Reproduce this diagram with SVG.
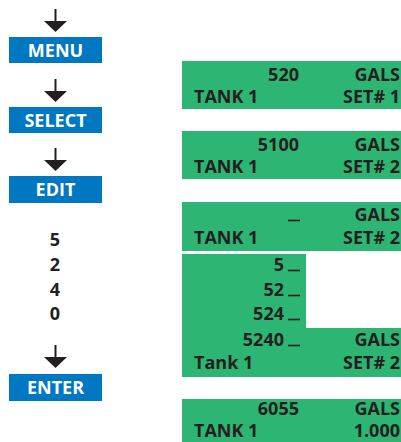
<svg xmlns="http://www.w3.org/2000/svg" width="401" height="442" viewBox="0 0 401 442">
<defs>
<style>
.btn{fill:#0077C1}
.btxt{fill:#FFFFFF;font-family:"Open Sans","Liberation Sans",sans-serif;font-weight:700;font-size:18px;text-anchor:middle}
.lcd{fill:#2DB673}
.t{fill:#231F20;font-family:"Open Sans","Liberation Sans",sans-serif;font-weight:700;font-size:18px}
.r{text-anchor:end}
.m{text-anchor:middle}
.cur{stroke:#231F20;stroke-width:1.6}
.ln{stroke:#231F20;stroke-width:2;fill:none}
.hd{fill:#231F20}
</style>
</defs>
<g id="connectors">
<line class="ln" x1="55.5" y1="9" x2="55.5" y2="22"/>
<polygon class="hd" points="44,21 67,21 55.5,32"/>
<line class="ln" x1="55.5" y1="79" x2="55.5" y2="92"/>
<polygon class="hd" points="44,91 67,91 55.5,102"/>
<line class="ln" x1="55.5" y1="148" x2="55.5" y2="161"/>
<polygon class="hd" points="44,160 67,160 55.5,171"/>
<line class="ln" x1="55.5" y1="345" x2="55.5" y2="358"/>
<polygon class="hd" points="44,357 67,357 55.5,368"/>
</g>
<g id="menu">
<rect class="btn" x="9" y="37" width="93" height="26"/>
<text class="btxt" x="55.5" y="56.5">MENU</text>
</g>
<g id="select">
<rect class="btn" x="9" y="107" width="93" height="26"/>
<text class="btxt" x="55.5" y="126.5">SELECT</text>
</g>
<g id="edit">
<rect class="btn" x="9" y="176" width="93" height="27"/>
<text class="btxt" x="55.5" y="196">EDIT</text>
</g>
<g id="digits">
<text class="t m" x="55" y="246">5</text>
<text class="t m" x="55" y="271">2</text>
<text class="t m" x="55" y="296">4</text>
<text class="t m" x="55" y="320">0</text>
</g>
<g id="enter">
<rect class="btn" x="9" y="374" width="93" height="27"/>
<text class="btxt" x="55.5" y="394">ENTER</text>
</g>
<g id="display1">
<rect class="lcd" x="182" y="61" width="219" height="48"/>
<text class="t r" x="299" y="81">520</text>
<text class="t r" x="400" y="81">GALS</text>
<text class="t" x="194" y="103">TANK 1</text>
<text class="t r" x="400" y="103">SET# 1</text>
</g>
<g id="display2">
<rect class="lcd" x="182" y="131" width="219" height="48"/>
<text class="t r" x="299" y="151">5100</text>
<text class="t r" x="400" y="151">GALS</text>
<text class="t" x="194" y="173">TANK 1</text>
<text class="t r" x="400" y="173">SET# 2</text>
</g>
<g id="display3">
<rect class="lcd" x="182" y="202" width="219" height="49"/>
<line class="cur" x1="288" y1="220.5" x2="300" y2="220.5"/>
<text class="t r" x="400" y="221">GALS</text>
<text class="t" x="194" y="244">TANK 1</text>
<text class="t r" x="400" y="244">SET# 2</text>
</g>
<g id="display4">
<rect class="lcd" x="182" y="254" width="124" height="75"/>
<text class="t r" x="284" y="271">5</text>
<line class="cur" x1="288" y1="270.5" x2="300" y2="270.5"/>
<text class="t r" x="284" y="296">52</text>
<line class="cur" x1="288" y1="295.5" x2="300" y2="295.5"/>
<text class="t r" x="284" y="320">524</text>
<line class="cur" x1="288" y1="319.5" x2="300" y2="319.5"/>
</g>
<g id="display5">
<rect class="lcd" x="182" y="328" width="219" height="49"/>
<text class="t r" x="284" y="346">5240</text>
<line class="cur" x1="288" y1="345.5" x2="300" y2="345.5"/>
<text class="t r" x="400" y="346">GALS</text>
<text class="t" x="194" y="369">Tank 1</text>
<text class="t r" x="400" y="369">SET# 2</text>
</g>
<g id="display6">
<rect class="lcd" x="182" y="399" width="219" height="43"/>
<text class="t r" x="299" y="415">6055</text>
<text class="t r" x="400" y="415">GALS</text>
<text class="t" x="194" y="437">TANK 1</text>
<text class="t r" x="400" y="437">1.000</text>
</g>
</svg>
